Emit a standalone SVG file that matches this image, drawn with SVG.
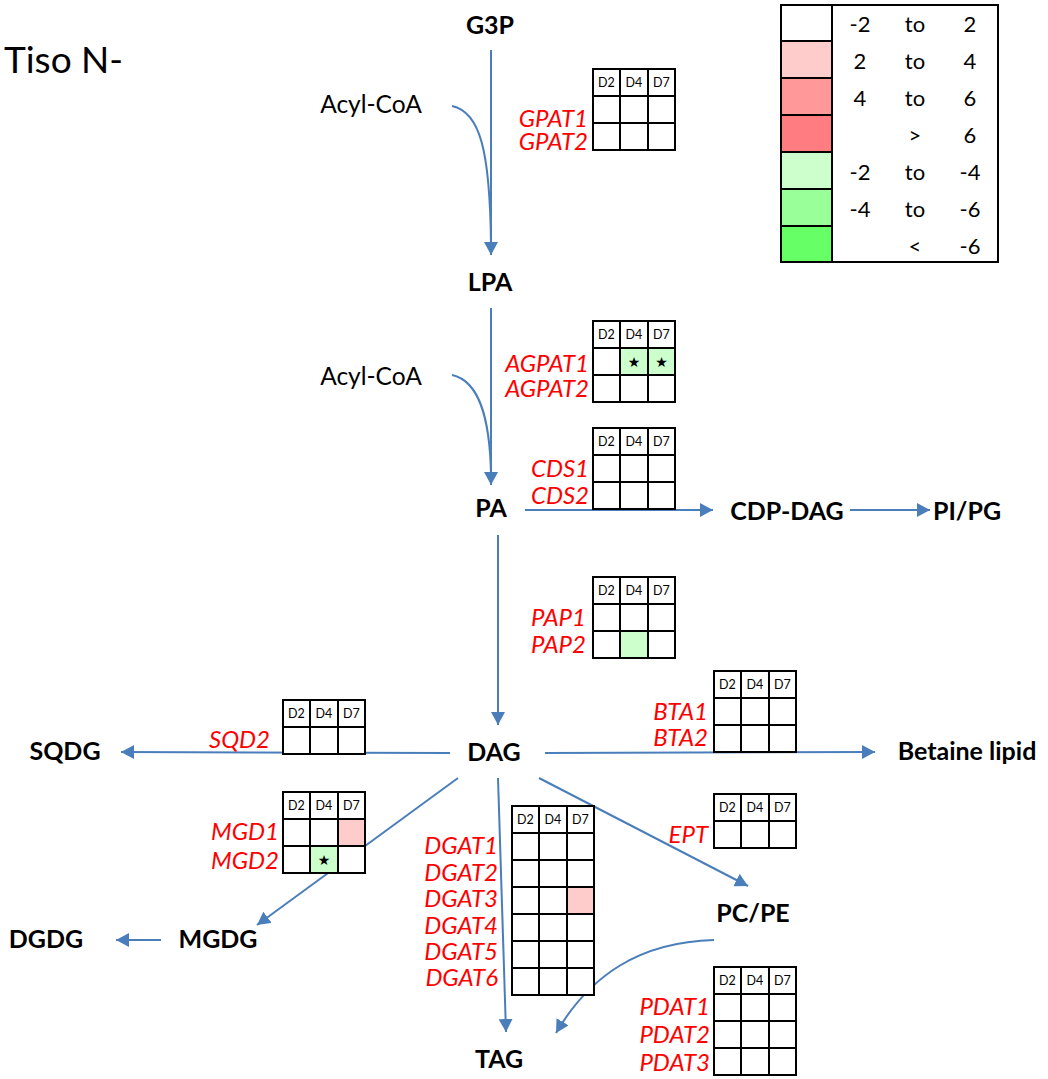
<svg xmlns="http://www.w3.org/2000/svg" xmlns:xlink="http://www.w3.org/1999/xlink" width="1048" height="1079" viewBox="0 0 1048 1079">
<style>
  .c { fill: #ffffff; stroke: #000000; stroke-width: 2; }
  .pk { fill: #FFCCCC; stroke: #000000; stroke-width: 2; }
  .gn { fill: #CCFFCC; stroke: #000000; stroke-width: 2; }
  .h { font-family: Lato, "Liberation Sans", sans-serif; font-size: 12.5px; text-anchor: middle; fill: #000; }
  .st { font-family: "DejaVu Sans", sans-serif; font-size: 14px; text-anchor: middle; fill: #000; }
  .node { font-family: Lato, "Liberation Sans", sans-serif; font-size: 25px; font-weight: bold; text-anchor: middle; fill: #000; }
  .gene { font-family: Lato, "Liberation Sans", sans-serif; font-size: 24px; font-style: italic; text-anchor: end; fill: #FF0000; }
  .plain { font-family: Lato, "Liberation Sans", sans-serif; font-size: 22px; text-anchor: middle; fill: #000; }
  .acyl { font-family: Lato, "Liberation Sans", sans-serif; font-size: 24.5px; text-anchor: middle; fill: #000; }
  .conn { fill: none; stroke: #4A7EBB; stroke-width: 2; }
  .arr { marker-end: url(#ah); }
</style>
<defs>
  <marker id="ah" markerUnits="userSpaceOnUse" markerWidth="14" markerHeight="14" refX="13" refY="7" orient="auto">
    <path d="M0,0 L13,7 L0,14 Z" fill="#4A7EBB"/>
  </marker>
  <g id="hdr">
    <rect class="c" x="0" y="0" width="27" height="27"/>
    <rect class="c" x="27" y="0" width="28" height="27"/>
    <rect class="c" x="55" y="0" width="27" height="27"/>
    <text class="h" x="13.5" y="18">D2</text>
    <text class="h" x="41" y="18">D4</text>
    <text class="h" x="68.5" y="18">D7</text>
  </g>
  <g id="row">
    <rect class="c" x="0" y="0" width="27" height="27"/>
    <rect class="c" x="27" y="0" width="28" height="27"/>
    <rect class="c" x="55" y="0" width="27" height="27"/>
  </g>
</defs>
<rect x="0" y="0" width="1048" height="1079" fill="#ffffff"/>

<text x="4" y="73" font-family="Lato, 'Liberation Sans', sans-serif" font-size="37px" fill="#000">Tiso N-</text>

<g id="connectors">
  <path class="conn arr" d="M491,50 L491,255"/>
  <path class="conn" d="M452,106 C480,112 490,150 491,245"/>
  <path class="conn arr" d="M491,308 L491,485"/>
  <path class="conn" d="M452,375 C480,381 490,420 491,475"/>
  <path class="conn arr" d="M525,510 L713,510"/>
  <path class="conn arr" d="M850,510 L930,510"/>
  <path class="conn arr" d="M498,535 L498,725"/>
  <path class="conn arr" d="M450,753 L121,752"/>
  <path class="conn arr" d="M458,778 L257,925"/>
  <path class="conn arr" d="M161,940 L116,940"/>
  <path class="conn arr" d="M498,778 L506,1032"/>
  <path class="conn arr" d="M539,778 L748,886"/>
  <path class="conn arr" d="M545,753 L875,752"/>
  <path class="conn arr" d="M714,940 C640,942 590,975 556,1033"/>
</g>

<g id="node-G3P"><text class="node" x="490" y="34">G3P</text></g>
<g id="node-AcylCoA1"><text class="acyl" x="371" y="113">Acyl-CoA</text></g>
<g id="node-LPA"><text class="node" x="490" y="291">LPA</text></g>
<g id="node-AcylCoA2"><text class="acyl" x="371" y="385">Acyl-CoA</text></g>
<g id="node-PA"><text class="node" x="491" y="517">PA</text></g>
<g id="node-CDPDAG"><text class="node" x="787" y="520">CDP-DAG</text></g>
<g id="node-PIPG"><text class="node" x="967" y="520">PI/PG</text></g>
<g id="node-DAG"><text class="node" x="494" y="761">DAG</text></g>
<g id="node-SQDG"><text class="node" x="65" y="760">SQDG</text></g>
<g id="node-Betaine"><text class="node" x="967" y="760">Betaine lipid</text></g>
<g id="node-MGDG"><text class="node" x="218" y="948">MGDG</text></g>
<g id="node-DGDG"><text class="node" x="46" y="948">DGDG</text></g>
<g id="node-PCPE"><text class="node" x="753" y="922">PC/PE</text></g>
<g id="node-TAG"><text class="node" x="499" y="1068">TAG</text></g>

<g id="grid-GPAT">
  <use href="#hdr" xlink:href="#hdr" x="593" y="69"/>
  <use href="#row" xlink:href="#row" x="593" y="96"/>
  <use href="#row" xlink:href="#row" x="593" y="123"/>
  <text class="gene" x="588" y="127">GPAT1</text>
  <text class="gene" x="588" y="150">GPAT2</text>
</g>

<g id="grid-AGPAT">
  <use href="#hdr" xlink:href="#hdr" x="593" y="321"/>
  <use href="#row" xlink:href="#row" x="593" y="348"/>
  <use href="#row" xlink:href="#row" x="593" y="375"/>
  <rect class="gn" x="620" y="348" width="28" height="27"/>
  <rect class="gn" x="648" y="348" width="27" height="27"/>
  <text class="st" x="634" y="367">★</text>
  <text class="st" x="661.5" y="367">★</text>
  <text class="gene" x="589" y="372">AGPAT1</text>
  <text class="gene" x="589" y="397">AGPAT2</text>
</g>

<g id="grid-CDS">
  <use href="#hdr" xlink:href="#hdr" x="593" y="428"/>
  <use href="#row" xlink:href="#row" x="593" y="455"/>
  <use href="#row" xlink:href="#row" x="593" y="482"/>
  <text class="gene" x="589" y="477">CDS1</text>
  <text class="gene" x="589" y="504">CDS2</text>
</g>

<g id="grid-PAP">
  <use href="#hdr" xlink:href="#hdr" x="593" y="577"/>
  <use href="#row" xlink:href="#row" x="593" y="604"/>
  <use href="#row" xlink:href="#row" x="593" y="631"/>
  <rect class="gn" x="620" y="631" width="28" height="27"/>
  <text class="gene" x="586" y="626">PAP1</text>
  <text class="gene" x="586" y="653">PAP2</text>
</g>

<g id="grid-SQD">
  <use href="#hdr" xlink:href="#hdr" x="283" y="700"/>
  <use href="#row" xlink:href="#row" x="283" y="727"/>
  <text class="gene" x="270" y="748">SQD2</text>
</g>

<g id="grid-MGD">
  <use href="#hdr" xlink:href="#hdr" x="283" y="792"/>
  <use href="#row" xlink:href="#row" x="283" y="819"/>
  <use href="#row" xlink:href="#row" x="283" y="846"/>
  <rect class="pk" x="338" y="819" width="27" height="27"/>
  <rect class="gn" x="310" y="846" width="28" height="27"/>
  <text class="st" x="324" y="865">★</text>
  <text class="gene" x="279" y="840">MGD1</text>
  <text class="gene" x="279" y="869">MGD2</text>
</g>

<g id="grid-DGAT">
  <use href="#hdr" xlink:href="#hdr" x="512" y="806"/>
  <use href="#row" xlink:href="#row" x="512" y="833"/>
  <use href="#row" xlink:href="#row" x="512" y="860"/>
  <use href="#row" xlink:href="#row" x="512" y="887"/>
  <use href="#row" xlink:href="#row" x="512" y="914"/>
  <use href="#row" xlink:href="#row" x="512" y="941"/>
  <use href="#row" xlink:href="#row" x="512" y="968"/>
  <rect class="pk" x="567" y="887" width="27" height="27"/>
  <text class="gene" x="498" y="854">DGAT1</text>
  <text class="gene" x="498" y="881">DGAT2</text>
  <text class="gene" x="498" y="907">DGAT3</text>
  <text class="gene" x="498" y="934">DGAT4</text>
  <text class="gene" x="498" y="960">DGAT5</text>
  <text class="gene" x="498" y="986">DGAT6</text>
</g>

<g id="grid-BTA">
  <use href="#hdr" xlink:href="#hdr" x="714" y="671"/>
  <use href="#row" xlink:href="#row" x="714" y="698"/>
  <use href="#row" xlink:href="#row" x="714" y="725"/>
  <text class="gene" x="708" y="720">BTA1</text>
  <text class="gene" x="708" y="746">BTA2</text>
</g>

<g id="grid-EPT">
  <use href="#hdr" xlink:href="#hdr" x="714" y="794"/>
  <use href="#row" xlink:href="#row" x="714" y="821"/>
  <text class="gene" x="708" y="843">EPT</text>
</g>

<g id="grid-PDAT">
  <use href="#hdr" xlink:href="#hdr" x="714" y="967"/>
  <use href="#row" xlink:href="#row" x="714" y="994"/>
  <use href="#row" xlink:href="#row" x="714" y="1021"/>
  <use href="#row" xlink:href="#row" x="714" y="1048"/>
  <text class="gene" x="710" y="1015">PDAT1</text>
  <text class="gene" x="710" y="1043">PDAT2</text>
  <text class="gene" x="710" y="1071">PDAT3</text>
</g>

<g id="legend">
  <rect x="781" y="5" width="217" height="257" fill="#ffffff" stroke="#000" stroke-width="2"/>
  <rect x="781" y="5" width="51" height="36" fill="#ffffff" stroke="#000" stroke-width="2"/>
  <rect x="781" y="41" width="51" height="37" fill="#FFCCCC" stroke="#000" stroke-width="2"/>
  <rect x="781" y="78" width="51" height="37" fill="#FF9999" stroke="#000" stroke-width="2"/>
  <rect x="781" y="115" width="51" height="37" fill="#FF7C80" stroke="#000" stroke-width="2"/>
  <rect x="781" y="152" width="51" height="37" fill="#CCFFCC" stroke="#000" stroke-width="2"/>
  <rect x="781" y="189" width="51" height="37" fill="#99FF99" stroke="#000" stroke-width="2"/>
  <rect x="781" y="226" width="51" height="36" fill="#66FF66" stroke="#000" stroke-width="2"/>
  <text class="plain" x="860" y="32">-2</text><text class="plain" x="915" y="32">to</text><text class="plain" x="970" y="32">2</text>
  <text class="plain" x="860" y="69">2</text><text class="plain" x="915" y="69">to</text><text class="plain" x="970" y="69">4</text>
  <text class="plain" x="860" y="106">4</text><text class="plain" x="915" y="106">to</text><text class="plain" x="970" y="106">6</text>
  <text class="plain" x="915" y="143">&gt;</text><text class="plain" x="970" y="143">6</text>
  <text class="plain" x="860" y="180">-2</text><text class="plain" x="915" y="180">to</text><text class="plain" x="970" y="180">-4</text>
  <text class="plain" x="860" y="217">-4</text><text class="plain" x="915" y="217">to</text><text class="plain" x="970" y="217">-6</text>
  <text class="plain" x="915" y="254">&lt;</text><text class="plain" x="970" y="254">-6</text>
</g>
</svg>
